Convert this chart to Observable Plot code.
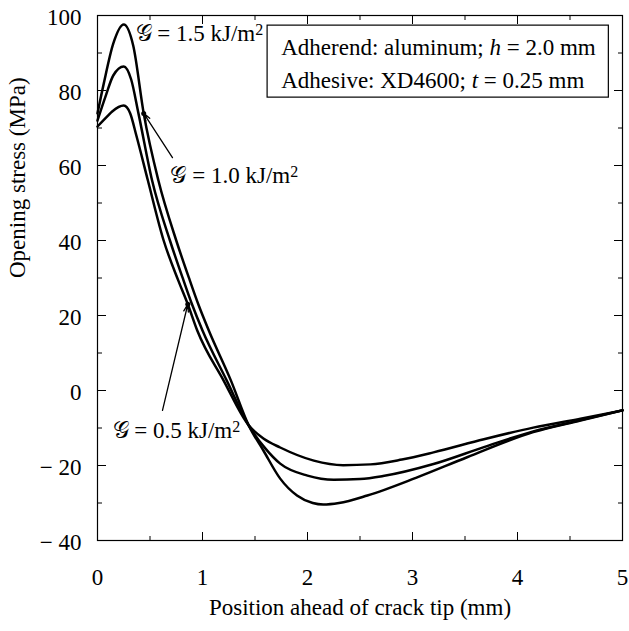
<!DOCTYPE html>
<html><head><meta charset="utf-8">
<script src="https://cdn.jsdelivr.net/npm/d3@7"></script>
<script src="https://cdn.jsdelivr.net/npm/@observablehq/plot@0.6"></script>
<style>body{margin:0;background:#fff} svg{display:block}</style>
</head><body><div id="chart"></div>
<script>
// Series: G = 1.5 kJ/m2
const x15 = [0, 0.06, 0.15, 0.25, 0.34, 0.44, 0.58, 0.75, 0.88, 0.96, 1.06, 1.27, 1.44, 1.58, 1.74, 1.9, 2.05, 2.15, 2.3, 2.57, 3.05, 3.52, 4.15, 4.6, 5.0];
const y15 = [73.9, 81.9, 92.5, 97.6, 92, 73.9, 56, 40, 29.3, 23, 16, 2.7, -9.3, -16, -23.5, -28, -30, -30.4, -30, -28, -23.1, -17.8, -11.1, -8, -5.3];
// Series: G = 1.0 kJ/m2
const x10 = [0, 0.08, 0.15, 0.25, 0.32, 0.39, 0.52, 0.69, 0.82, 0.9, 1.0, 1.23, 1.44, 1.6, 1.74, 2.0, 2.25, 2.5, 2.72, 3.2, 3.68, 4.15, 4.6, 5.0];
const y10 = [72, 78.7, 84, 86.4, 83, 73.9, 56, 40, 29.3, 23, 16, 2.7, -9.3, -15.5, -19.5, -22.7, -23.8, -23.6, -22.8, -19.6, -15.1, -10.9, -7.9, -5.3];
// Series: G = 0.5 kJ/m2
const x05 = [0, 0.1, 0.14, 0.25, 0.31, 0.37, 0.48, 0.63, 0.77, 0.86, 0.95, 1.2, 1.44, 1.58, 1.74, 2.06, 2.34, 2.6, 2.9, 3.2, 3.68, 4.15, 4.6, 5.0];
const y05 = [70.4, 73.3, 74.4, 76, 74, 68, 56, 40, 29.3, 23, 16, 2.7, -9.3, -12.8, -15.2, -18.7, -19.9, -19.7, -18.4, -16.5, -13, -9.9, -7.5, -5.3];

const seriesNames = ["1.5", "1.0", "0.5"];
const seriesX = [x15, x10, x05];
const seriesY = [y15, y10, y05];

// Ticks
const xMajor = [0, 1, 2, 3, 4, 5];
const xMinor = [0.5, 1.5, 2.5, 3.5, 4.5];
const yMajor = [-40, -20, 0, 20, 40, 60, 80, 100];
const yMinor = [-30, -10, 10, 30, 50, 70, 90];

// Texts
const xTitle = "Position ahead of crack tip (mm)";
const yTitle = "Opening stress (MPa)";
const legendLines = ["Adherend: aluminum; h = 2.0 mm", "Adhesive: XD4600; t = 0.25 mm"];
const curveLabels = ["𝒢 = 1.5 kJ/m²", "𝒢 = 1.0 kJ/m²", "𝒢 = 0.5 kJ/m²"];

// Build table
const rows = seriesNames.flatMap((g, k) => seriesX[k].map((x, i) => ({g, x, y: seriesY[k][i]})));

// Annotation placement (data coordinates)
const labelPos = [
  {text: curveLabels[0], x: 0.362, y: 95.2},
  {text: curveLabels[1], x: 0.695, y: 57.3},
  {text: curveLabels[2], x: 0.143, y: -10.7}
];
const leaders = [
  {x1: 0.714, y1: 62.1, x2: 0.44, y2: 73.9},
  {x1: 0.619, y1: -5.3, x2: 0.86, y2: 23}
];
const legendBox = [{x1: 1.62, x2: 4.87, y1: 78.1, y2: 97.3}];
const legendText = [
  {text: legendLines[0], x: 1.75, y: 91.4},
  {text: legendLines[1], x: 1.75, y: 82.6}
];

const yFmt = d => d < 0 ? "\u2212 " + Math.abs(d) : String(d);
const blank = () => "";
const FS = 23;

const chart = Plot.plot({
  width: 629, height: 631,
  marginLeft: 97, marginRight: 7, marginTop: 15, marginBottom: 91,
  style: {fontFamily: "'Liberation Serif', 'DejaVu Serif', serif", fontSize: FS + "px", background: "white", color: "black", overflow: "visible"},
  x: {domain: [0, 5], label: null},
  y: {domain: [-40, 100], label: null},
  marks: [
    Plot.axisX(xMajor, {anchor: "bottom", tickSize: 0, tickPadding: 28, tickFormat: d => String(d), fontSize: FS, label: null}),
    Plot.axisX(xMajor, {anchor: "bottom", tickSize: -8, tickFormat: blank, label: null}),
    Plot.axisX(xMajor, {anchor: "top", tickSize: -8, tickFormat: blank, label: null}),
    Plot.axisX(xMinor, {anchor: "bottom", tickSize: -4, tickFormat: blank, label: null}),
    Plot.axisX(xMinor, {anchor: "top", tickSize: -4, tickFormat: blank, label: null}),
    Plot.axisY(yMajor, {anchor: "left", tickSize: 0, tickPadding: 16, tickFormat: yFmt, fontSize: FS, label: null, dy: 2}),
    Plot.axisY(yMajor, {anchor: "left", tickSize: -9, tickFormat: blank, label: null}),
    Plot.axisY(yMajor, {anchor: "right", tickSize: -9, tickFormat: blank, label: null}),
    Plot.axisY(yMinor, {anchor: "left", tickSize: -5, tickFormat: blank, label: null}),
    Plot.axisY(yMinor, {anchor: "right", tickSize: -5, tickFormat: blank, label: null}),
    Plot.frame({stroke: "black", strokeWidth: 1.2}),
    Plot.line(rows, {x: "x", y: "y", z: "g", stroke: "black", strokeWidth: 2.5, curve: "monotone-x"}),
    Plot.rect(legendBox, {x1: "x1", x2: "x2", y1: "y1", y2: "y2", fill: "white", stroke: "black", strokeWidth: 1.2}),
    Plot.text(legendText, {x: "x", y: "y", text: "text", textAnchor: "start", fontSize: FS}),
    Plot.text(labelPos, {x: "x", y: "y", text: "text", textAnchor: "start", fontSize: FS}),
    Plot.arrow(leaders, {x1: "x1", y1: "y1", x2: "x2", y2: "y2", stroke: "black", strokeWidth: 1.3, headLength: 9, headAngle: 35}),
    Plot.dot(leaders, {x: "x2", y: "y2", r: 2.5, fill: "black"}),
    Plot.text([xTitle], {frameAnchor: "bottom", dy: 74, fontSize: FS}),
    Plot.text([yTitle], {frameAnchor: "left", rotate: -90, dx: -80, fontSize: FS})
  ]
});

// Rich text: italics and superscripts
d3.select(chart).selectAll("text").each(function() {
  const t = this.textContent;
  const sel = d3.select(this);
  if (t === legendLines[0] || t === legendLines[1]) {
    const v = t === legendLines[0] ? "h" : "t";
    const idx = t.indexOf(" " + v + " =");
    sel.text(null);
    sel.append("tspan").text(t.slice(0, idx + 1));
    sel.append("tspan").attr("font-style", "italic").text(v);
    sel.append("tspan").text(t.slice(idx + 2));
  } else if (t.endsWith("²")) {
    sel.text(null);
    sel.append("tspan").text(t.slice(0, -1));
    sel.append("tspan").attr("dy", "-0.38em").attr("font-size", "16px").text("2");
  }
});

document.getElementById("chart").appendChild(chart);
</script>
</body></html>
